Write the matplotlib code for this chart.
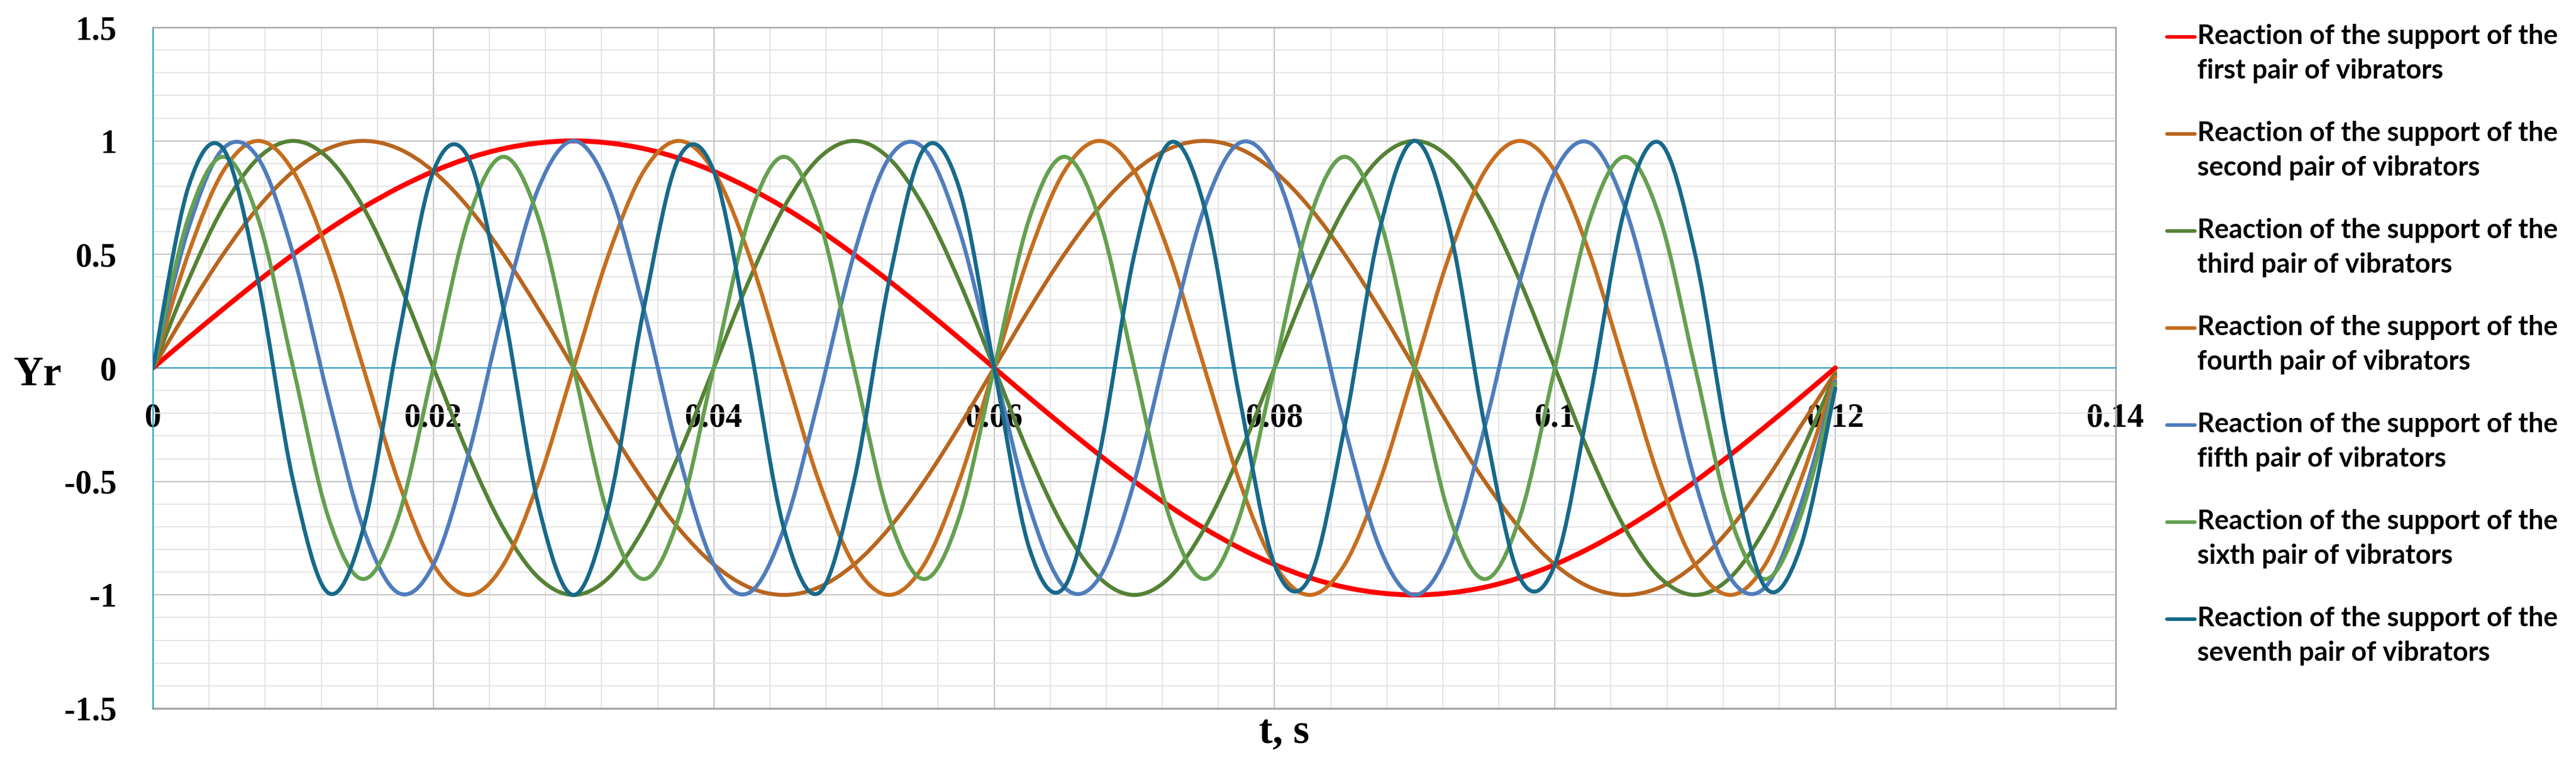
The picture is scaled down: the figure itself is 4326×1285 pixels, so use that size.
import matplotlib

matplotlib.use("Agg")

import matplotlib.pyplot as plt
from matplotlib.path import Path
from matplotlib.patches import PathPatch
from matplotlib.lines import Line2D
import numpy as np

# time samples, s (step 0.0025)
T_S = [0, 0.0025, 0.005, 0.0075, 0.01, 0.0125, 0.015, 0.0175, 0.02, 0.0225,
       0.025, 0.0275, 0.03, 0.0325, 0.035, 0.0375, 0.04, 0.0425, 0.045, 0.0475,
       0.05, 0.0525, 0.055, 0.0575, 0.06, 0.0625, 0.065, 0.0675, 0.07, 0.0725,
       0.075, 0.0775, 0.08, 0.0825, 0.085, 0.0875, 0.09, 0.0925, 0.095, 0.0975,
       0.1, 0.1025, 0.105, 0.1075, 0.11, 0.1125, 0.115, 0.1175, 0.12]

PAIR1 = [0, .131, .259, .383, .5, .609, .707, .793, .866, .924, .966, .991, 1,
         .991, .966, .924, .866, .793, .707, .609, .5, .383, .259, .131, 0,
         -.131, -.259, -.383, -.5, -.609, -.707, -.793, -.866, -.924, -.966, -.991, -1,
         -.991, -.966, -.924, -.866, -.793, -.707, -.609, -.5, -.383, -.259, -.131, 0]
PAIR2 = [0, .259, .5, .707, .866, .966, 1, .966, .866, .707, .5, .259,
         0, -.259, -.5, -.707, -.866, -.966, -1, -.966, -.866, -.707, -.5, -.259,
         0, .259, .5, .707, .866, .966, 1, .966, .866, .707, .5, .259,
         0, -.259, -.5, -.707, -.866, -.966, -1, -.966, -.866, -.707, -.5, -.259, -.02]
PAIR3 = [0, .383, .707, .924, 1, .924, .707, .383, 0, -.383, -.707, -.924, -1, -.924, -.707, -.383,
         0, .383, .707, .924, 1, .924, .707, .383, 0, -.383, -.707, -.924, -1, -.924, -.707, -.383,
         0, .383, .707, .924, 1, .924, .707, .383, 0, -.383, -.707, -.924, -1, -.924, -.707, -.383,
         -.03]
PAIR4 = [0, .5, .866, 1, .866, .5, 0, -.5, -.866, -1, -.866, -.5,
         0, .5, .866, 1, .866, .5, 0, -.5, -.866, -1, -.866, -.5,
         0, .5, .866, 1, .866, .5, 0, -.5, -.866, -1, -.866, -.5,
         0, .5, .866, 1, .866, .5, 0, -.5, -.866, -1, -.866, -.5, -.04]
PAIR5 = [0, .609, .966, .924, .5, -.131, -.707, -.991, -.866, -.383, .259, .793, 1,
         .793, .259, -.383, -.866, -.991, -.707, -.131, .5, .924, .966, .609, 0,
         -.609, -.966, -.924, -.5, .131, .707, .991, .866, .383, -.259, -.793, -1,
         -.793, -.259, .383, .866, .991, .707, .131, -.5, -.924, -.966, -.609, -.06]
PAIR6 = [0, .657, .93, .657, 0, -.657, -.93, -.657, 0, .657, .93, .657, 0, -.657, -.93, -.657,
         0, .657, .93, .657, 0, -.657, -.93, -.657, 0, .657, .93, .657, 0, -.657, -.93, -.657,
         0, .657, .93, .657, 0, -.657, -.93, -.657, 0, .657, .93, .657, 0, -.657, -.93, -.657,
         -.07]
PAIR7 = [0, .793, .966, .383, -.5, -.991, -.707, .131, .866, .924, .259, -.609, -1,
         -.609, .259, .924, .866, .131, -.707, -.991, -.5, .383, .966, .793, 0,
         -.793, -.966, -.383, .5, .991, .707, -.131, -.866, -.924, -.259, .609, 1,
         .609, -.259, -.924, -.866, -.131, .707, .991, .5, -.383, -.966, -.793, -.09]

SERIES = [PAIR1, PAIR2, PAIR3, PAIR4, PAIR5, PAIR6, PAIR7]
ORDINALS = ["first", "second", "third", "fourth", "fifth", "sixth", "seventh"]
COLORS = ["#FF0000", "#B8651E", "#548235", "#C66E1E", "#4F7DBC", "#64A04F", "#17698A"]
WIDTHS = [6.0, 4.8, 4.8, 4.8, 4.8, 4.8, 4.8]

X_TICKS = [0, 0.02, 0.04, 0.06, 0.08, 0.1, 0.12, 0.14]
X_LABELS = ["0", "0.02", "0.04", "0.06", "0.08", "0.1", "0.12", "0.14"]
Y_TICKS = [-1.5, -1, -0.5, 0, 0.5, 1, 1.5]
Y_LABELS = ["-1.5", "-1", "-0.5", "0", "0.5", "1", "1.5"]

AXIS_BLUE = "#2C9CC4"
BORDER = "#A6A6A6"
W, H = 4326, 1285


def smooth_path(x, y):
    # smoothed line like a spreadsheet chart: cubic Bezier through every point
    pts = np.column_stack([x, y]).astype(float)
    n = len(pts)
    verts = [pts[0]]
    codes = [Path.MOVETO]
    for i in range(n - 1):
        p0 = pts[i - 1] if i > 0 else pts[i]
        p1 = pts[i]
        p2 = pts[i + 1]
        p3 = pts[i + 2] if i + 2 < n else pts[i + 1]
        verts += [p1 + (p2 - p0) / 6.0, p2 - (p3 - p1) / 6.0, p2]
        codes += [Path.CURVE4] * 3
    return Path(verts, codes)


fig = plt.figure(figsize=(W / 100, H / 100), dpi=100)
ax = fig.add_axes([257 / W, 1 - 1190 / H, (3553 - 257) / W, (1190 - 46) / H])

ax.spines["bottom"].set_position(("data", 0))
ax.spines["bottom"].set_color(AXIS_BLUE)
ax.spines["bottom"].set_linewidth(1.6)
ax.spines["left"].set_color(AXIS_BLUE)
ax.spines["left"].set_linewidth(1.6)
for side in ("top", "right"):
    ax.spines[side].set_color(BORDER)
    ax.spines[side].set_linewidth(1.8)

ax.set_xlim(0, 0.14)
ax.set_ylim(-1.5, 1.5)
tick_font = dict(family=["Liberation Serif", "DejaVu Serif"], weight="bold", size=40)
ax.set_xticks(X_TICKS)
ax.set_xticklabels(X_LABELS, fontdict=tick_font)
ax.set_yticks(Y_TICKS)
ax.set_yticklabels(Y_LABELS, fontdict=tick_font)
ax.set_xticks(np.arange(0, 0.1401, 0.004), minor=True)
ax.set_yticks(np.arange(-1.5, 1.501, 0.1), minor=True)
ax.grid(which="minor", color="#E4E4E4", lw=1.4, zorder=0)
ax.grid(which="major", color="#C4C4C4", lw=1.5, zorder=0)
ax.set_axisbelow(True)
ax.tick_params(axis="both", which="both", length=0)
ax.tick_params(axis="y", pad=44)
ax.tick_params(axis="x", pad=42)
ax.axhline(-1.5, color=BORDER, lw=2.4, clip_on=False, zorder=1)

for ys, col, lw in zip(SERIES, COLORS, WIDTHS):
    ax.add_patch(PathPatch(smooth_path(T_S, ys), facecolor="none", edgecolor=col,
                           lw=lw, capstyle="round", joinstyle="round", zorder=3))

# axis titles
fig.text(63 / W, 1 - 647 / H, "Yr", ha="center", va="baseline",
         family=["Liberation Serif", "DejaVu Serif"], weight="bold", size=50)
fig.text(2157 / W, 1 - 1248 / H, "t, s", ha="center", va="baseline",
         family=["Liberation Serif", "DejaVu Serif"], weight="bold", size=50)

# legend, one entry per pair, marker beside the first text line
leg_font = dict(family=["Lato", "DejaVu Sans"], weight="bold", size=32.5)
for i, (name, col) in enumerate(zip(ORDINALS, COLORS)):
    base1 = 74 + 163 * i
    mid = 62 + 163 * i
    fig.add_artist(Line2D([3639 / W, 3686 / W], [1 - mid / H, 1 - mid / H],
                          color=col, lw=4.3, solid_capstyle="round"))
    fig.text(3690 / W, 1 - base1 / H, "Reaction of the support of the",
             ha="left", va="baseline", **leg_font)
    fig.text(3690 / W, 1 - (base1 + 58) / H, f"{name} pair of vibrators",
             ha="left", va="baseline", **leg_font)

fig.savefig("out.png", dpi=100, facecolor="white")
